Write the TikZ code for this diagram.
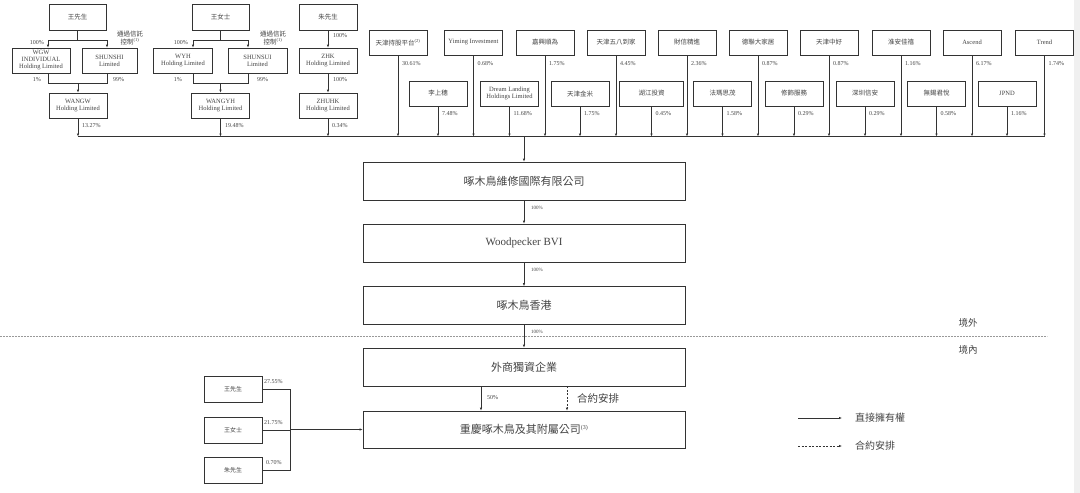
\documentclass[tikz,border=0pt]{standalone}
\usepackage{fontspec}
\setmainfont{Liberation Serif}
\newfontfamily\cjk{Noto Sans CJK TC}
\usetikzlibrary{arrows.meta}
\definecolor{ln}{HTML}{333333}
\definecolor{tx}{HTML}{444444}
\begin{document}
\begin{tikzpicture}[x=1pt,y=-1pt,
  box/.style={draw=ln, line width=0.6pt, fill=white, inner sep=1pt, align=center, text=tx},
  sbox/.style={box, minimum width=58pt, minimum height=25pt, font=\fontsize{6.5}{7}\selectfont},
  mbox/.style={box, minimum width=322pt, minimum height=38pt, font=\fontsize{11}{13}\selectfont},
  pct/.style={text=tx, font=\fontsize{6}{7}\selectfont, inner sep=0pt},
  tiny/.style={text=tx, font=\fontsize{5}{6}\selectfont, inner sep=0pt},
  trust/.style={text=tx, font=\fontsize{6.5}{8}\selectfont, inner sep=0pt, align=center},
  conn/.style={draw=ln, line width=0.6pt},
  arr/.style={conn, -{Latex[length=3pt,width=2.4pt]}},
  darr/.style={arr, dash pattern=on 2pt off 1.5pt},
]
\useasboundingbox (0,0) rectangle (1080,493);
\fill[white] (0,0) rectangle (1080,493);
\fill[black!6] (1074,0) rectangle (1080,493);

% ---------- bus ----------
\coordinate (bus) at (0,136.5);

% ---------- group 1 ----------
\node[sbox, minimum width=57pt, minimum height=26pt] (p1) at (77.5,17) {\cjk 王先生};
\node[sbox] (wgw) at (41,60.5) {WGW\\INDIVIDUAL\\Holding Limited};
\node[sbox, minimum width=55pt] (shunshi) at (109.5,60.5) {SHUNSHI\\Limited};
\node[sbox] (wangw) at (78,105.5) {WANGW\\Holding Limited};
\coordinate (g1t) at (77.5,40);
\coordinate (g1l) at (48,40);
\coordinate (g1r) at (107,40);
\coordinate (g1bl) at (48,83);
\coordinate (g1br) at (107,83);
\draw[conn] (p1.south) -- (g1t);
\draw[conn] (g1l) -- (g1r);
\draw[arr] (g1l) -- (g1l |- wgw.north);
\draw[arr] (g1r) -- (g1r |- shunshi.north);
\draw[conn] (g1bl |- wgw.south) -- (g1bl) -- (g1br) -- (g1br |- shunshi.south);
\draw[arr] (wangw.north |- g1bl) -- (wangw.north);
\node[pct, anchor=east] (g1p100) at (44,43) {100\%};
\node[trust] (g1trust) at (130,38) {\cjk 通過信託\\\cjk 控制\textsuperscript{\rmfamily(1)}};
\node[pct, anchor=east] (g1p1) at (41,80) {1\%};
\node[pct, anchor=west] (g1p99) at (113,80) {99\%};

% ---------- group 2 ----------
\node[sbox, minimum width=57pt, minimum height=26pt] (p2) at (220.5,17) {\cjk 王女士};
\node[sbox, minimum width=59pt] (wyh) at (183,60.5) {WYH\\Holding Limited};
\node[sbox, minimum width=59pt] (shunsui) at (257.5,60.5) {SHUNSUI\\Limited};
\node[sbox] (wangyh) at (220.5,105.5) {WANGYH\\Holding Limited};
\coordinate (g2t) at (220.5,40);
\coordinate (g2l) at (193,40);
\coordinate (g2r) at (248,40);
\coordinate (g2bl) at (193,83);
\coordinate (g2br) at (248,83);
\draw[conn] (p2.south) -- (g2t);
\draw[conn] (g2l) -- (g2r);
\draw[arr] (g2l) -- (g2l |- wyh.north);
\draw[arr] (g2r) -- (g2r |- shunsui.north);
\draw[conn] (g2bl |- wyh.south) -- (g2bl) -- (g2br) -- (g2br |- shunsui.south);
\draw[arr] (wangyh.north |- g2bl) -- (wangyh.north);
\node[pct, anchor=east] (g2p100) at (188,43) {100\%};
\node[trust] (g2trust) at (273,38) {\cjk 通過信託\\\cjk 控制\textsuperscript{\rmfamily(1)}};
\node[pct, anchor=east] (g2p1) at (182,80) {1\%};
\node[pct, anchor=west] (g2p99) at (257,80) {99\%};

% ---------- group 3 ----------
\node[sbox, minimum height=26pt] (p3) at (328,17) {\cjk 朱先生};
\node[sbox] (zhk) at (328,60.5) {ZHK\\Holding Limited};
\node[sbox] (zhuhk) at (328,105.5) {ZHUHK\\Holding Limited};
\draw[arr] (p3.south) -- (zhk.north);
\draw[arr] (zhk.south) -- (zhuhk.north);
\node[pct, anchor=west] (g3a) at (333,36) {100\%};
\node[pct, anchor=west] (g3b) at (333,80) {100\%};

% ---------- group outputs to bus ----------
\draw[arr] (wangw.south) -- (wangw.south |- bus);
\draw[arr] (wangyh.south) -- (wangyh.south |- bus);
\draw[arr] (zhuhk.south) -- (zhuhk.south |- bus);
\node[pct, anchor=west] (q1) at (82,126) {13.27\%};
\node[pct, anchor=west] (q2) at (225,126) {19.48\%};
\node[pct, anchor=west] (q3) at (332,126) {0.34\%};

% ---------- shareholders top row ----------
\node[sbox] (t1) at (398,42.5) {\cjk 天津持股平台\textsuperscript{\rmfamily(2)}};
\node[sbox] (t2) at (473.5,42.5) {Yiming Investment};
\node[sbox] (t3) at (545,42.5) {\cjk 嘉興順為};
\node[sbox] (t4) at (616,42.5) {\cjk 天津五八到家};
\node[sbox] (t5) at (687,42.5) {\cjk 財信精進};
\node[sbox] (t6) at (758,42.5) {\cjk 德聯大家居};
\node[sbox] (t7) at (829,42.5) {\cjk 天津中好};
\node[sbox] (t8) at (901,42.5) {\cjk 淮安佳禧};
\node[sbox] (t9) at (972,42.5) {Ascend};
\node[sbox] (t10) at (1044.5,42.5) {Trend};
% ---------- shareholders second row ----------
\node[sbox] (b1) at (438,93.5) {\cjk 李上穗};
\node[sbox] (b2) at (509.5,93.5) {Dream Landing\\Holdings Limited};
\node[sbox] (b3) at (580,93.5) {\cjk 天津金米};
\node[sbox, minimum width=64pt] (b4) at (651.5,93.5) {\cjk 湖江投資};
\node[sbox] (b5) at (722.5,93.5) {\cjk 法瑪思茂};
\node[sbox] (b6) at (794,93.5) {\cjk 修飾服務};
\node[sbox] (b7) at (865,93.5) {\cjk 深圳信安};
\node[sbox] (b8) at (936.5,93.5) {\cjk 無錫君悅};
\node[sbox] (b9) at (1007,93.5) {JPND};

\foreach \n/\p in {t1/30.61,t2/0.68,t3/1.75,t4/4.45,t5/2.36,t6/0.87,t7/0.87,t8/1.16,t9/6.17,t10/1.74}{
  \draw[arr] (\n.south) -- (\n.south |- bus);
  \node[pct, anchor=west] (\n pct) at ([xshift=4pt,yshift=-8pt]\n.south) {\p\%};
}
\foreach \n/\p in {b1/7.48,b2/11.68,b3/1.75,b4/0.45,b5/1.58,b6/0.29,b7/0.29,b8/0.58,b9/1.16}{
  \draw[arr] (\n.south) -- (\n.south |- bus);
  \node[pct, anchor=west] (\n pct) at ([xshift=4pt,yshift=-7pt]\n.south) {\p\%};
}
\draw[conn] (wangw.south |- bus) -- (t10.south |- bus);

% ---------- main chain ----------
\node[mbox] (m1) at (524,181) {\cjk 啄木鳥維修國際有限公司};
\node[mbox] (m2) at (524,243) {Woodpecker BVI};
\node[mbox] (m3) at (524,305.5) {\cjk 啄木鳥香港};
\node[mbox] (m4) at (524,367) {\cjk 外商獨資企業};
\node[mbox, minimum height=37pt] (m5) at (524,429.5) {\cjk 重慶啄木鳥及其附屬公司\textsuperscript{\rmfamily\fontsize{6}{7}\selectfont(3)}};
\draw[arr] (m1.north |- bus) -- (m1.north);
\draw[arr] (m1.south) -- (m2.north);
\draw[arr] (m2.south) -- (m3.north);
\draw[arr] (m3.south) -- (m4.north);
\node[tiny, anchor=west] (c1) at (531,208) {100\%};
\node[tiny, anchor=west] (c2) at (531,270) {100\%};
\node[tiny, anchor=west] (c3) at (531,332) {100\%};

% ---------- offshore / onshore ----------
\coordinate (dl) at (0,336);
\coordinate (dr) at (1047,336);
\draw[black!40, line width=0.5pt, dash pattern=on 0.6pt off 0.9pt] (dl) -- (dr);
\node[text=tx, font=\fontsize{9.5}{11}\selectfont\cjk] (off) at (968,323) {境外};
\node[text=tx, font=\fontsize{9.5}{11}\selectfont\cjk] (on) at (968,350) {境內};

% ---------- m4 to m5 ----------
\coordinate (s50) at (481,0);
\coordinate (sct) at (567,0);
\draw[arr] (s50 |- m4.south) -- (s50 |- m5.north);
\draw[darr] (sct |- m4.south) -- (sct |- m5.north);
\node[pct, anchor=west] (p50) at (487,398) {50\%};
\node[text=tx, anchor=west, font=\fontsize{10.5}{12}\selectfont\cjk, inner sep=0pt] (ctl) at (577,398) {合約安排};

% ---------- left persons ----------
\node[sbox, font=\fontsize{6}{7}\selectfont\cjk, minimum height=26pt] (l1) at (233,389) {王先生};
\node[sbox, font=\fontsize{6}{7}\selectfont\cjk, minimum height=26pt] (l2) at (233,430) {王女士};
\node[sbox, font=\fontsize{6}{7}\selectfont\cjk, minimum height=26pt] (l3) at (233,470) {朱先生};
\coordinate (lj) at (290,429.5);
\draw[conn] (l1.east) -- (l1.east -| lj) -- (l3.east -| lj) -- (l3.east);
\draw[conn] (l2.east) -- (l2.east -| lj);
\draw[arr] (lj) -- (m5.west);
\node[pct, anchor=west] (lp1) at (264,382) {27.55\%};
\node[pct, anchor=west] (lp2) at (264,423) {21.75\%};
\node[pct, anchor=west] (lp3) at (266,463) {0.70\%};

% ---------- legend ----------
\coordinate (la1) at (798,418);
\coordinate (la2) at (842,418);
\coordinate (lb1) at (798,446);
\coordinate (lb2) at (842,446);
\draw[arr] (la1) -- (la2);
\draw[darr] (lb1) -- (lb2);
\node[text=tx, anchor=west, font=\fontsize{10}{12}\selectfont\cjk, inner sep=0pt] (lg1) at (855,418) {直接擁有權};
\node[text=tx, anchor=west, font=\fontsize{10}{12}\selectfont\cjk, inner sep=0pt] (lg2) at (855,446) {合約安排};
\end{tikzpicture}
\end{document}
